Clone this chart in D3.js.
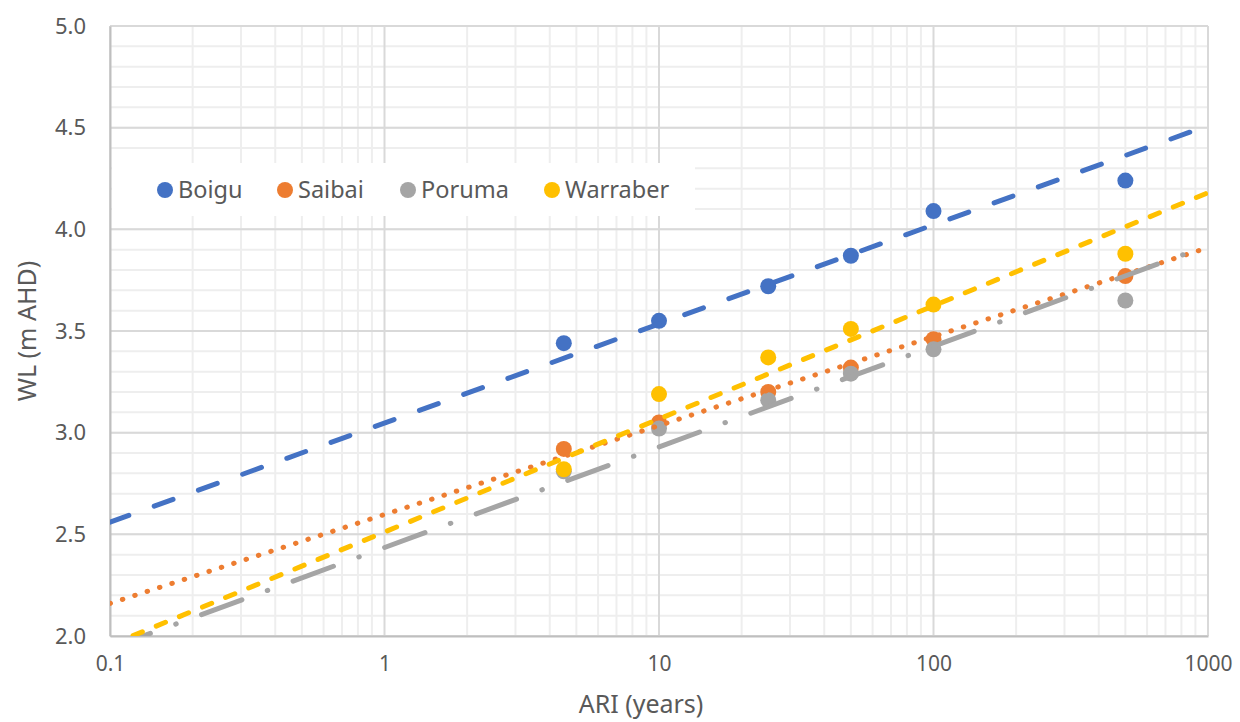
<!DOCTYPE html>
<html>
<head>
<meta charset="utf-8">
<script src="https://cdn.jsdelivr.net/npm/d3@7"></script>
<style>
  body { margin: 0; background: #fff; }
  text { font-family: "Noto Sans", "Open Sans", sans-serif; fill: #595959; }
</style>
</head>
<body>
<div id="chart"></div>
<script>
// ARI (years) of the plotted points
var ari = [4.5, 10, 25, 50, 100, 500];
var sites = ["Boigu", "Saibai", "Poruma", "Warraber"];
var colors = ["#4472c4", "#ed7d31", "#a5a5a5", "#ffc000"];
// water levels (m AHD)
var boigu = [3.44, 3.55, 3.72, 3.87, 4.09, 4.24];
var saibai = [2.92, 3.05, 3.20, 3.32, 3.46, 3.77];
var poruma = [2.81, 3.02, 3.16, 3.29, 3.41, 3.65];
var warraber = [2.82, 3.19, 3.37, 3.51, 3.63, 3.88];
// trendline values read at ARI 0.1 and 1000
var trendAt01 = [2.56, 2.16, 1.94, 1.955];
var trendAt1000 = [4.51, 3.91, 3.92, 4.18];
var xTicks = [0.1, 1, 10, 100, 1000];
var yTicks = [2.0, 2.5, 3.0, 3.5, 4.0, 4.5, 5.0];

var values = [boigu, saibai, poruma, warraber];
var dashes = ["20,27", "0.5,12.5", "43,27,0.5,27", "10,15"];

var margin = {top: 26, right: 32, bottom: 86, left: 110},
    width = 1240 - margin.left - margin.right,
    height = 722 - margin.top - margin.bottom;

var x = d3.scaleLog().domain([0.1, 1000]).range([0, width]);
var y = d3.scaleLinear().domain([2, 5]).range([height, 0]);

var svg = d3.select("#chart").append("svg")
    .attr("width", 1240)
    .attr("height", 722)
  .append("g")
    .attr("transform", "translate(" + margin.left + "," + margin.top + ")");

svg.append("clipPath").attr("id", "clip")
  .append("rect").attr("width", width).attr("height", height);

// minor grid
var minorX = [];
[0.1, 1, 10, 100].forEach(function(d) {
  for (var i = 2; i <= 9; i++) minorX.push(d * i);
});
var minorY = d3.range(20, 51).map(function(d) { return d / 10; });

svg.append("g").selectAll("line")
    .data(minorY)
  .enter().append("line")
    .attr("x1", 0).attr("x2", width)
    .attr("y1", function(d) { return y(d); })
    .attr("y2", function(d) { return y(d); })
    .attr("stroke", "#eeeeee").attr("stroke-width", 2);

svg.append("g").selectAll("line")
    .data(minorX)
  .enter().append("line")
    .attr("x1", function(d) { return x(d); })
    .attr("x2", function(d) { return x(d); })
    .attr("y1", 0).attr("y2", height)
    .attr("stroke", "#eeeeee").attr("stroke-width", 2);

// major grid
svg.append("g").selectAll("line")
    .data(yTicks)
  .enter().append("line")
    .attr("x1", 0).attr("x2", width)
    .attr("y1", function(d) { return y(d); })
    .attr("y2", function(d) { return y(d); })
    .attr("stroke", "#d9d9d9").attr("stroke-width", 2);

svg.append("g").selectAll("line")
    .data(xTicks)
  .enter().append("line")
    .attr("x1", function(d) { return x(d); })
    .attr("x2", function(d) { return x(d); })
    .attr("y1", 0).attr("y2", height)
    .attr("stroke", "#d9d9d9").attr("stroke-width", 2);

// axes
var xAxis = svg.append("g")
    .attr("transform", "translate(0," + height + ")")
    .call(d3.axisBottom(x).tickValues(xTicks).tickSize(0).tickPadding(20)
      .tickFormat(function(d) { return d3.format("~g")(d); }));
xAxis.select(".domain").attr("stroke", "#bfbfbf").attr("stroke-width", 2);
xAxis.selectAll("text").style("font-size", "21px");

var yAxis = svg.append("g")
    .call(d3.axisLeft(y).tickValues(yTicks).tickSize(0).tickPadding(24)
      .tickFormat(d3.format(".1f")));
yAxis.select(".domain").attr("stroke", "#bfbfbf").attr("stroke-width", 2);
yAxis.selectAll("text").style("font-size", "22px");

// points
var plot = svg.append("g").attr("clip-path", "url(#clip)");
values.forEach(function(vals, i) {
  plot.append("g").selectAll("circle")
      .data(vals)
    .enter().append("circle")
      .attr("cx", function(d, j) { return x(ari[j]); })
      .attr("cy", function(d) { return y(d); })
      .attr("r", 8)
      .attr("fill", colors[i]);
});

// trendlines
sites.forEach(function(s, i) {
  plot.append("line")
    .attr("x1", x(0.1)).attr("y1", y(trendAt01[i]))
    .attr("x2", x(1000)).attr("y2", y(trendAt1000[i]))
    .attr("stroke", colors[i])
    .attr("stroke-width", 5)
    .attr("stroke-linecap", "round")
    .attr("stroke-dasharray", dashes[i]);
});

// legend
var legend = svg.append("g").attr("transform", "translate(2,137)");
legend.append("rect")
    .attr("width", 583).attr("height", 53)
    .attr("fill", "#fff");
var legendX = [53, 173, 296, 440];
sites.forEach(function(s, i) {
  var g = legend.append("g").attr("transform", "translate(" + legendX[i] + ",27)");
  g.append("circle").attr("r", 8).attr("fill", colors[i]);
  g.append("text").attr("x", 13).attr("dy", "0.35em")
    .style("font-size", "23.5px").text(s);
});

// axis titles
svg.append("text")
    .attr("x", 531).attr("y", height + 77)
    .attr("text-anchor", "middle")
    .style("font-size", "25px")
    .text("ARI (years)");

svg.append("text")
    .attr("transform", "translate(-74," + (height / 2) + ") rotate(-90)")
    .attr("text-anchor", "middle")
    .style("font-size", "25px")
    .text("WL (m AHD)");
</script>
</body>
</html>
